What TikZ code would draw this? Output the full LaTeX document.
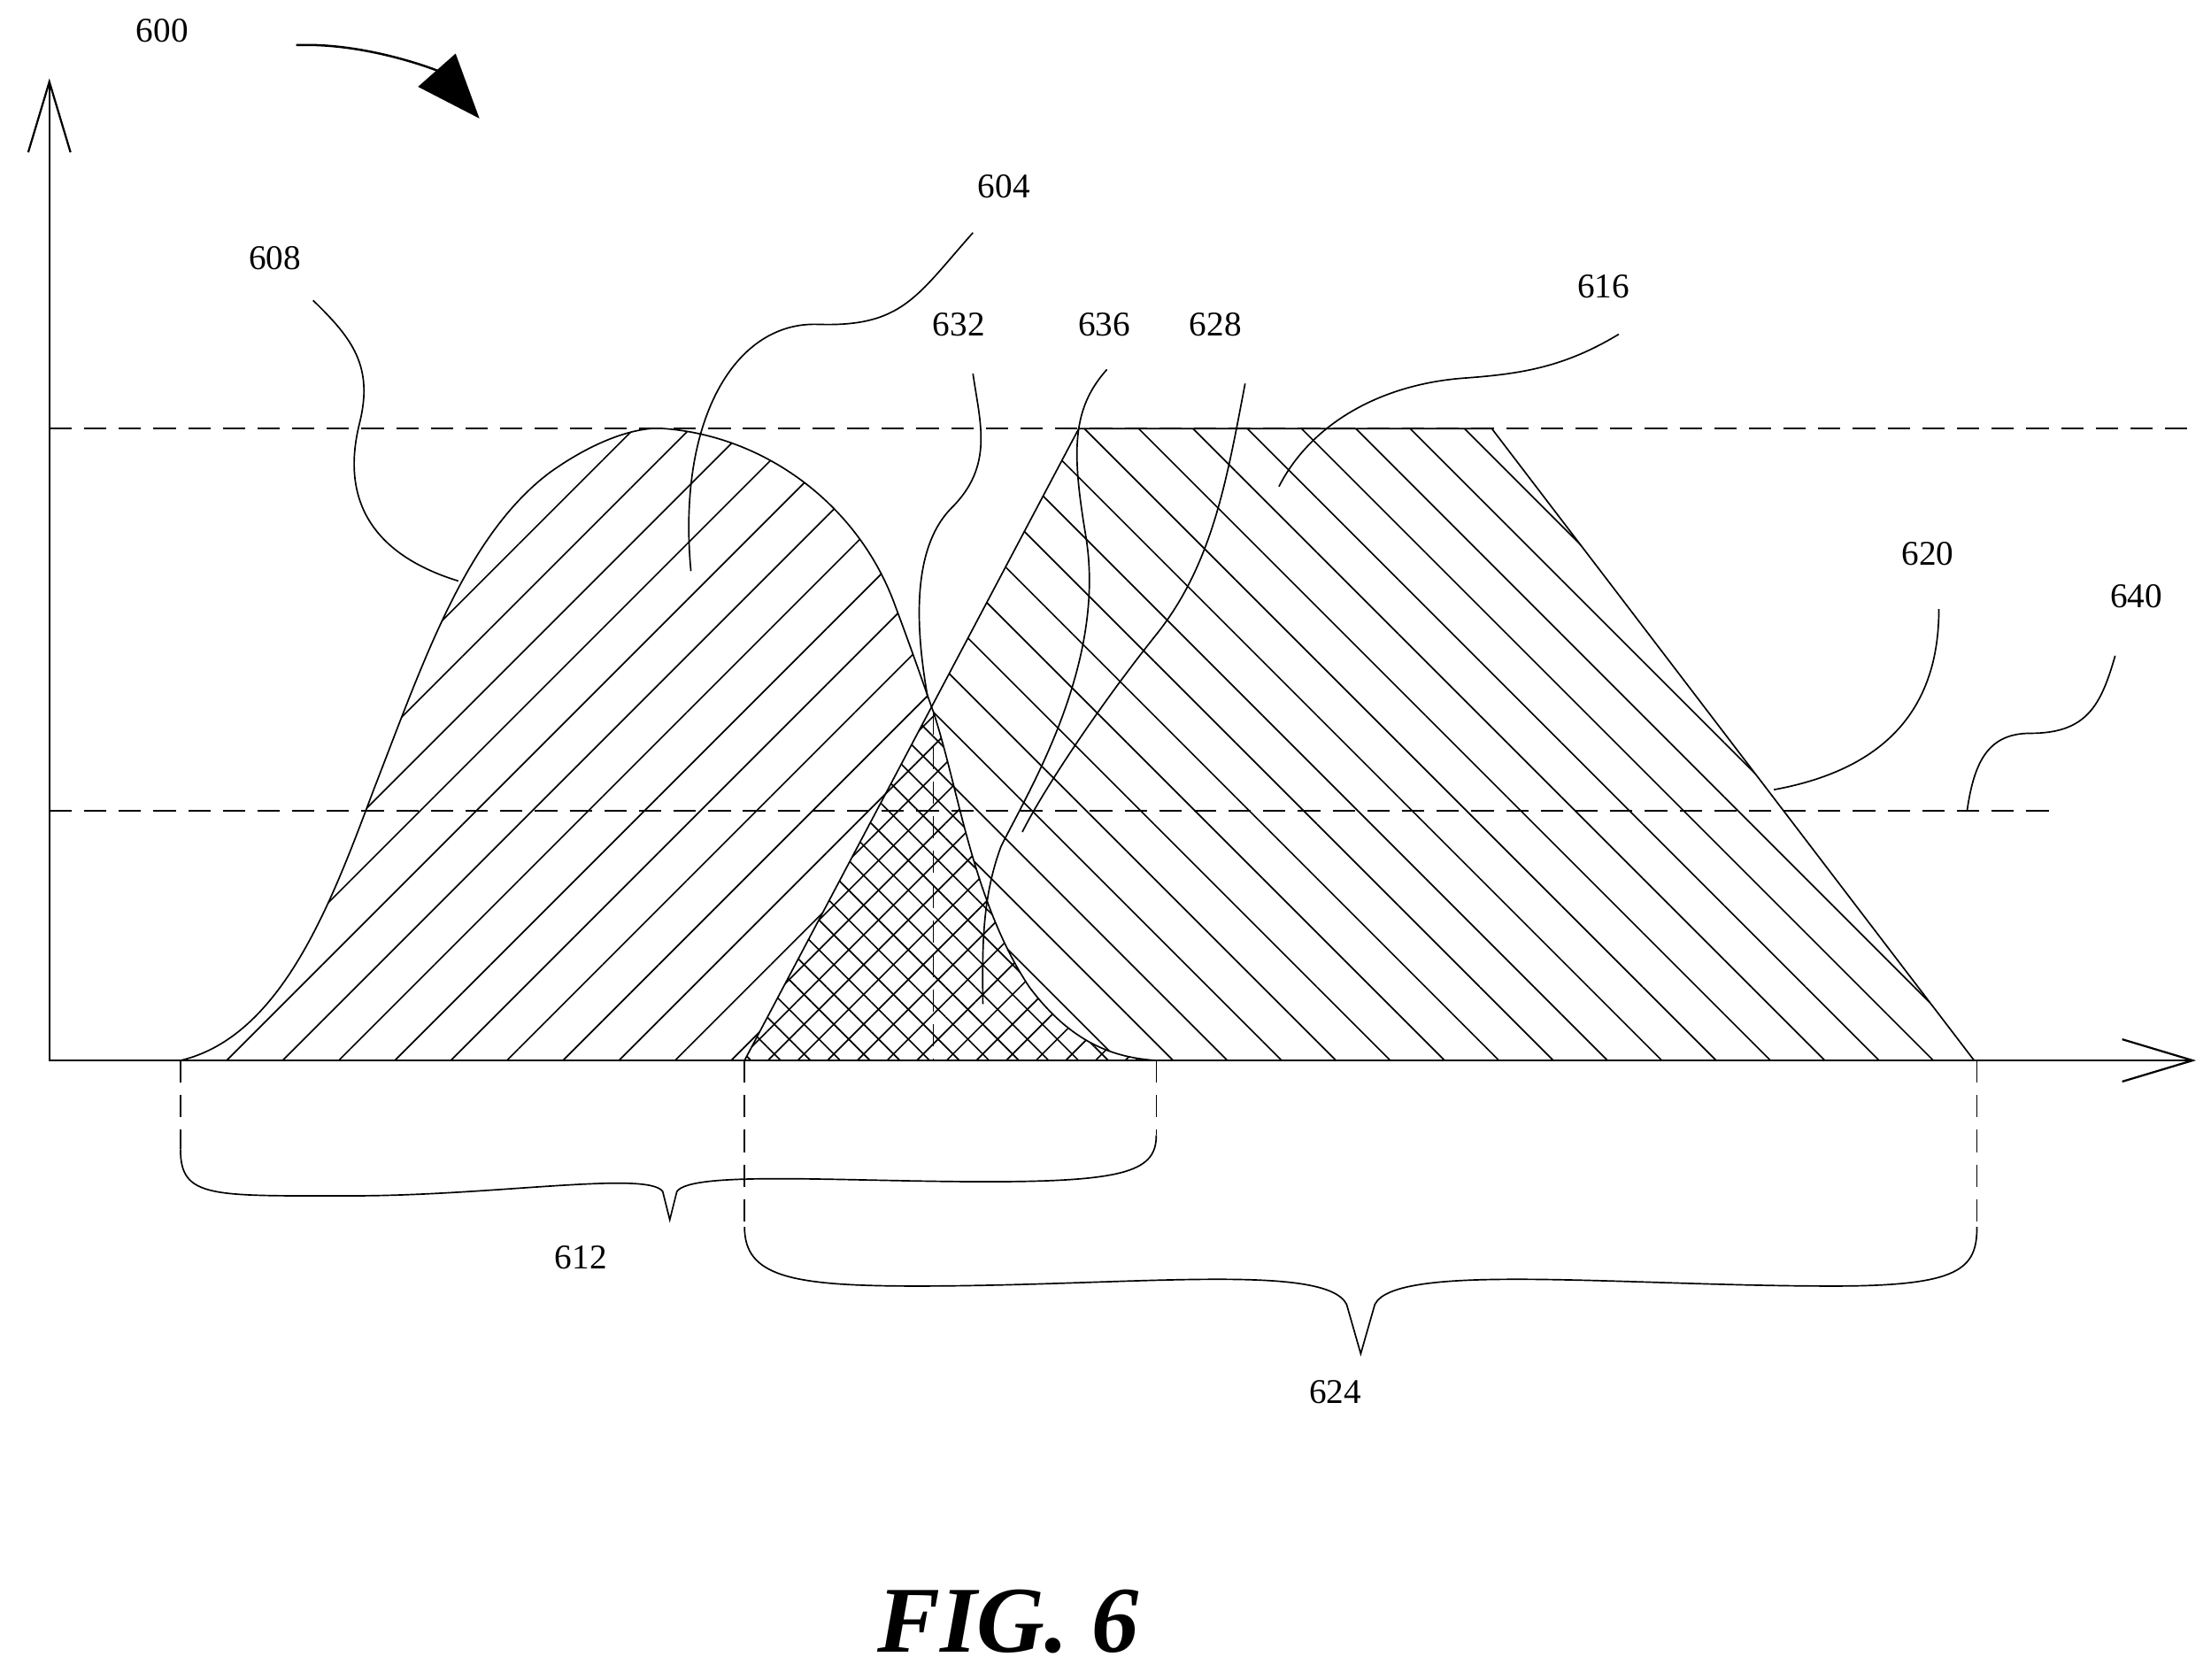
\documentclass[tikz,border=0pt]{standalone}
\usepackage{fontspec}
\setmainfont{Liberation Serif}
\usetikzlibrary{patterns.meta,arrows.meta}
\begin{document}
\begin{tikzpicture}[x=0.02cm,y=-0.02cm,
  lbl/.style={font=\fontsize{14}{16}\selectfont},
  lead/.style={line width=0.6pt},
  dsh/.style={dash pattern=on 9pt off 5pt,line width=0.6pt}]
\useasboundingbox (0,0) rectangle (1568,1191);
\def\gauss{(128,752) .. controls (200,735) and (235,640) .. (265,560) .. controls (300,470) and (330,380) .. (390,335) .. controls (425,310) and (455,302) .. (472,304) .. controls (545,310) and (610,360) .. (635,430) .. controls (650,470) and (660,500) .. (662,505) .. controls (680,560) and (690,640) .. (730,700) .. controls (760,740) and (790,750) .. (820,752) -- cycle}
\def\trap{(528,752) -- (765,304) -- (1058,304) -- (1400,752) -- cycle}
\fill[pattern={Lines[angle=45,distance=16pt,line width=0.6pt]}] \gauss;
\fill[pattern={Lines[angle=-45,distance=15.5pt,line width=0.6pt]}] \trap;
\begin{scope}
\clip \gauss;
\fill[white] \trap;
\fill[pattern={Lines[angle=45,distance=8.5pt,line width=0.6pt]}] \trap;
\fill[pattern={Lines[angle=-45,distance=8.5pt,line width=0.6pt]}] \trap;
\end{scope}
\draw[line width=0.6pt] \gauss;
\draw[line width=0.6pt] \trap;
\coordinate (o) at (35,752);
\coordinate (yt) at (35,58);
\coordinate (xt) at (1555,752);
\draw[line width=0.8pt] (yt) -- (o) -- (xt);
\draw[line width=0.8pt] (20,108) -- (yt) -- (50,108);
\draw[line width=0.8pt] (1505,737) -- (xt) -- (1505,767);
\draw[dsh] (35,304) -- (1555,304);
\draw[dsh] (35,575) -- (1455,575);
\draw[dsh] (662,505) -- (662,752);
\draw[dsh] (128,752) -- (128,815);
\draw[dsh] (528,752) -- (528,870);
\draw[dsh] (820,752) -- (820,805);
\draw[dsh] (1402,752) -- (1402,870);
\draw[lead] (128,815) .. controls (128,850) and (150,848) .. (250,848) .. controls (350,848) and (460,830) .. (470,845) -- (475,865) -- (480,845) .. controls (490,830) and (600,838) .. (700,838) .. controls (800,838) and (820,830) .. (820,805);
\draw[lead] (528,870) .. controls (528,905) and (560,912) .. (650,912) .. controls (800,912) and (940,895) .. (955,925) -- (965,960) -- (975,925) .. controls (990,895) and (1150,912) .. (1300,912) .. controls (1390,912) and (1402,900) .. (1402,870);
\node[lbl] (l600) at (115,22) {600};
\coordinate (a600s) at (210,32);
\coordinate (a600e) at (340,84);
\draw[line width=0.9pt,-{Triangle[length=26pt,width=20pt]}] (a600s) .. controls (260,30) and (310,50) .. (a600e);
\node[lbl] (l608) at (195,183) {608};
\node[lbl] (l604) at (712,132) {604};
\node[lbl] (l632) at (680,230) {632};
\node[lbl] (l636) at (783,230) {636};
\node[lbl] (l628) at (862,230) {628};
\node[lbl] (l616) at (1137,203) {616};
\node[lbl] (l620) at (1367,393) {620};
\node[lbl] (l640) at (1515,423) {640};
\node[lbl] (l612) at (412,892) {612};
\node[lbl] (l624) at (947,987) {624};
\node[font=\bfseries\itshape\fontsize{38}{42}\selectfont] (fig) at (715,1150) {FIG. 6};
\draw[lead] (222,213) .. controls (250,240) and (265,260) .. (255,300) .. controls (240,360) and (270,395) .. (325,412);
\draw[lead] (690,165) .. controls (650,210) and (640,232) .. (580,230) .. controls (520,228) and (480,300) .. (490,405);
\draw[lead] (690,265) .. controls (695,300) and (705,330) .. (675,360) .. controls (645,390) and (650,450) .. (658,495);
\draw[lead] (785,262) .. controls (760,290) and (760,320) .. (770,380) .. controls (785,470) and (730,560) .. (710,600) .. controls (695,640) and (697,680) .. (697,712);
\draw[lead] (883,272) .. controls (870,340) and (860,400) .. (820,450) .. controls (780,500) and (740,560) .. (725,590);
\draw[lead] (1148,237) .. controls (1110,260) and (1080,265) .. (1040,268) .. controls (980,272) and (930,300) .. (907,345);
\draw[lead] (1375,432) .. controls (1375,500) and (1340,545) .. (1258,560);
\draw[lead] (1500,465) .. controls (1490,500) and (1480,520) .. (1440,520) .. controls (1410,520) and (1400,540) .. (1395,575);
\end{tikzpicture}
\end{document}
